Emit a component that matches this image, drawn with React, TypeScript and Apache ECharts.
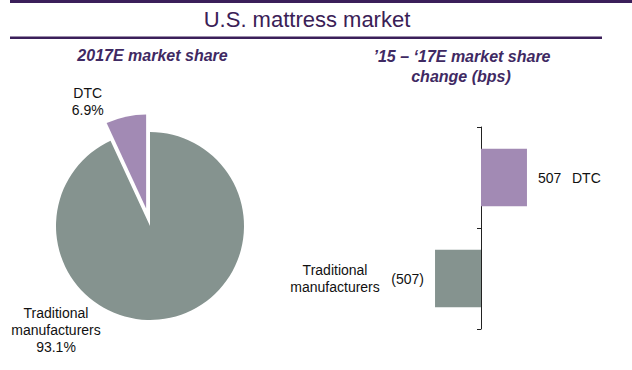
import React, { useEffect, useRef } from "react";
import * as echarts from "echarts";

const pieNames = ["Traditional\nmanufacturers", "DTC"];
const pieValues = [93.1, 6.9];
const barCategories = ["Traditional\nmanufacturers", "DTC"];
const barValues = [-507, 507];
const sliceColors = ["#85938f", "#a28ab4"];

const FONT = "Liberation Sans, Arial, Helvetica, sans-serif";
const PURPLE_DARK = "#3b1f5a";

export default function App() {
  const ref = useRef<HTMLDivElement>(null);
  useEffect(() => {
    if (!ref.current) return;
    const chart = echarts.init(ref.current, null, { renderer: "svg" });
    const pieLabelPos = [
      { x: 56, y: 330 },
      { x: 109, y: 96 },
    ];
    const option: any = {
      animation: false,
      textStyle: { fontFamily: FONT },
      graphic: [
        { type: "rect", shape: { x: 10, y: 0, width: 622, height: 3 }, style: { fill: PURPLE_DARK } },
        { type: "rect", shape: { x: 10, y: 36.5, width: 592, height: 2.5 }, style: { fill: PURPLE_DARK } },
        {
          type: "text", x: 307, y: 19.5,
          style: { text: "U.S. mattress market", fontSize: 22, fontFamily: FONT, fill: "#3a2056", align: "center", verticalAlign: "middle" },
        },
        {
          type: "text", x: 152.5, y: 55,
          style: { text: "2017E market share", fontSize: 16, fontWeight: "bold", fontStyle: "italic", fontFamily: FONT, fill: "#3f2a63", align: "center", verticalAlign: "middle" },
        },
        {
          type: "text", x: 462, y: 56,
          style: { text: "\u201915 \u2013 \u201817E market share", fontSize: 16, fontWeight: "bold", fontStyle: "italic", fontFamily: FONT, fill: "#3f2a63", align: "center", verticalAlign: "middle" },
        },
        {
          type: "text", x: 461, y: 76,
          style: { text: "change (bps)", fontSize: 16, fontWeight: "bold", fontStyle: "italic", fontFamily: FONT, fill: "#3f2a63", align: "center", verticalAlign: "middle" },
        },
      ],
      grid: { left: 345, top: 127, width: 272, height: 202 },
      xAxis: { type: "value", min: -1500, max: 1500, show: false },
      yAxis: {
        type: "category",
        data: barCategories,
        axisLine: { show: true, onZero: true, lineStyle: { color: "#222", width: 1 } },
        axisTick: { show: true, length: 4, lineStyle: { color: "#222" } },
        axisLabel: { show: false },
        splitLine: { show: false },
      },
      series: [
        {
          type: "pie",
          center: [150, 226],
          radius: 94,
          startAngle: 90,
          clockwise: true,
          selectedMode: "single",
          selectedOffset: 18,
          silent: true,
          data: pieNames.map((n, i) => ({
            name: n,
            value: pieValues[i],
            selected: i === 1,
            itemStyle: { color: sliceColors[i] },
          })),
          label: {
            show: true,
            position: "outside",
            formatter: "{b}\n{c}%",
            fontSize: 14,
            lineHeight: 17,
            color: "#111",
            fontFamily: FONT,
            align: "center",
          },
          labelLine: { show: false },
          labelLayout: (params: any) => ({
            x: pieLabelPos[params.dataIndex].x,
            y: pieLabelPos[params.dataIndex].y,
            align: "center",
            verticalAlign: "middle",
          }),
        },
        {
          type: "bar",
          barWidth: "57%",
          silent: true,
          z: 3,
          data: barValues.map((v, i) => ({
            value: v,
            itemStyle: { color: sliceColors[i] },
            label: {
              show: true,
              position: v < 0 ? "left" : "right",
              distance: 11,
              formatter: v < 0 ? `(${-v})` : `${v}`,
              fontSize: 14,
              color: "#111",
              fontFamily: FONT,
            },
          })),
        },
        {
          type: "bar",
          barWidth: "57%",
          barGap: "-100%",
          silent: true,
          z: 1,
          itemStyle: { color: "rgba(0,0,0,0)" },
          data: barValues.map((v, i) => ({
            value: v,
            label: {
              show: true,
              position: v < 0 ? "left" : "right",
              distance: v < 0 ? 100 : 45,
              align: v < 0 ? "center" : "left",
              formatter: barCategories[i],
              fontSize: 14,
              lineHeight: 17,
              color: "#111",
              fontFamily: FONT,
            },
          })),
        },
      ],
    };
    chart.setOption(option);
    return () => chart.dispose();
  }, []);
  return (
    <div
      ref={ref}
      style={{ position: "absolute", left: 0, top: 0, width: 632, height: 370, background: "#fff" }}
    />
  );
}
